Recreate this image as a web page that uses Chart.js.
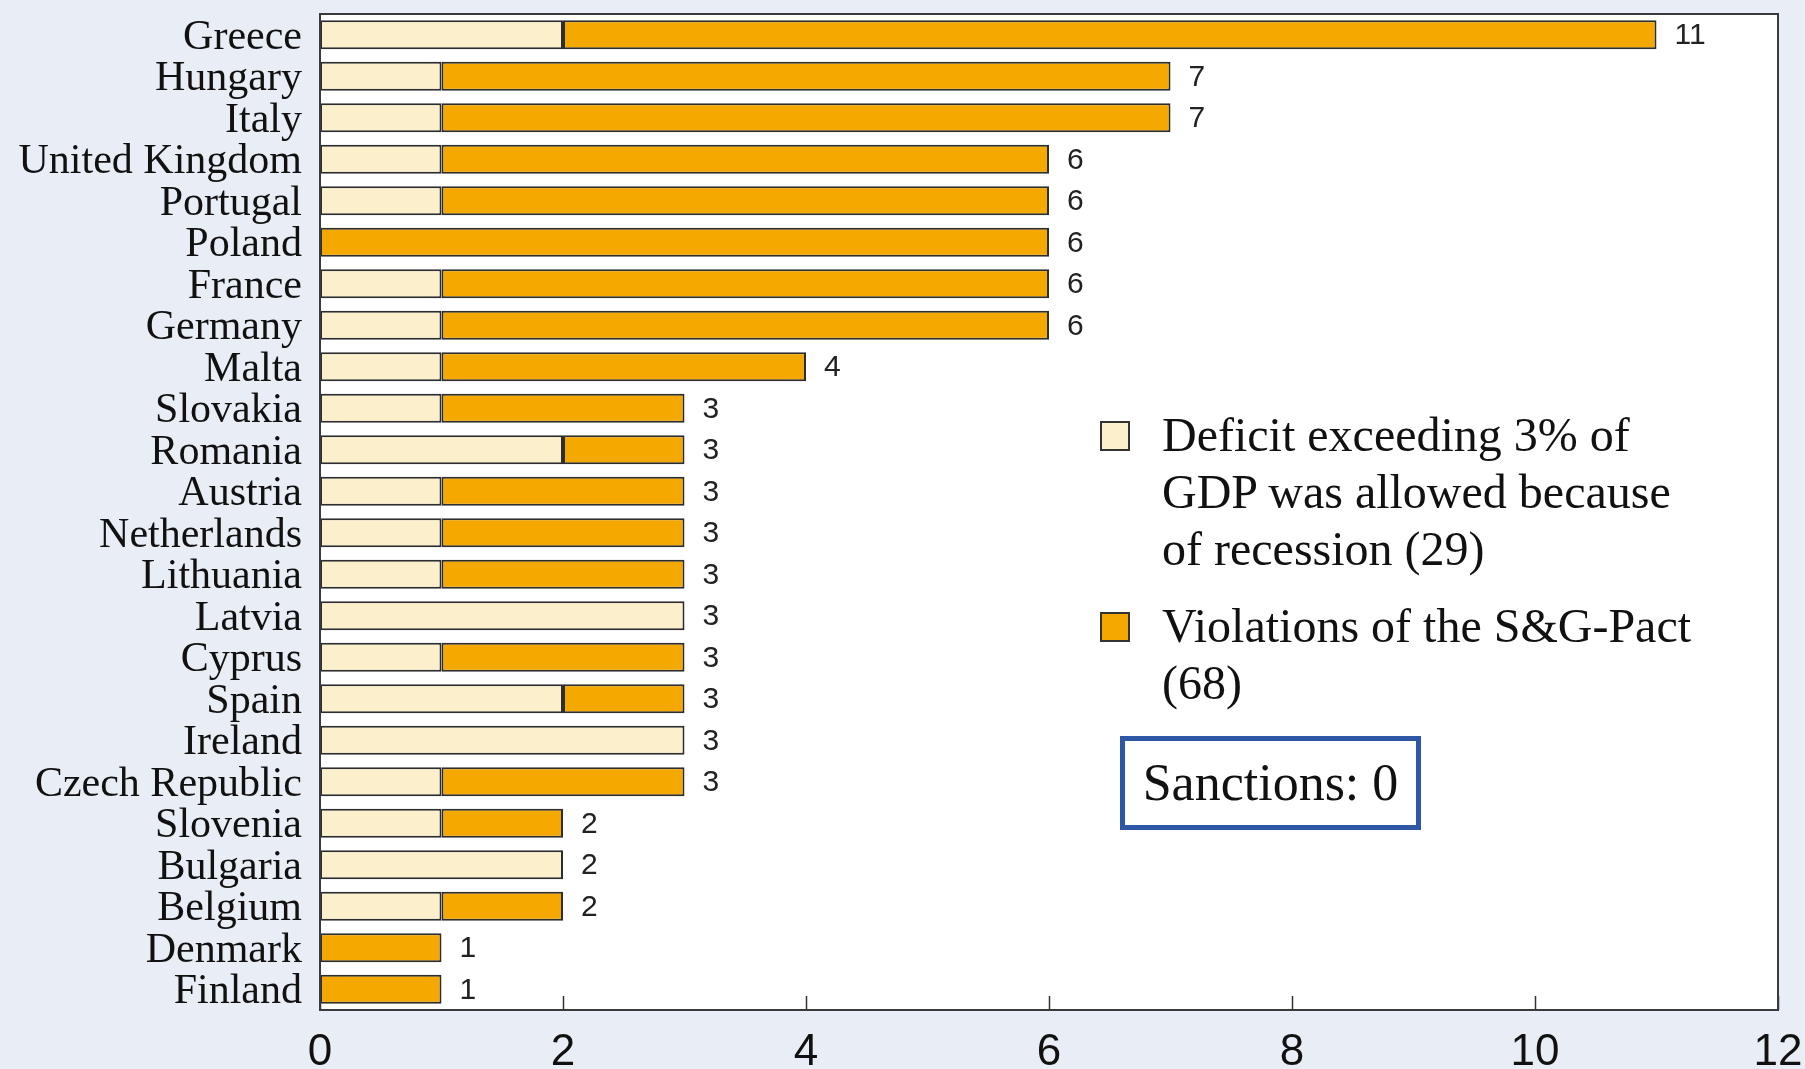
<!DOCTYPE html>
<html>
<head>
<meta charset="utf-8">
<script src="https://cdn.jsdelivr.net/npm/chart.js@4/dist/chart.umd.min.js"></script>
<style>
  html, body { margin: 0; padding: 0; background: #e9edf6; }
  #wrap { position: relative; width: 1805px; height: 1069px; overflow: hidden; }
  #chart { position: absolute; left: 0; top: 0; }
  .legend { position: absolute; font-family: "Liberation Serif", "Times New Roman", serif; font-size: 48px; color: #111; }
  .swatch { position: absolute; width: 26px; height: 26px; border: 2px solid #333; }
  .ltext { position: absolute; line-height: 57px; white-space: nowrap; }
  #sanctions { position: absolute; left: 1120px; top: 736px; width: 291px; height: 84px;
    border: 5px solid #2e58a6; background: #fff; font-family: "Liberation Serif", "Times New Roman", serif;
    font-size: 52px; color: #111; line-height: 84px; text-align: center; }
</style>
</head>
<body>
<div id="wrap">
  <canvas id="chart" width="1805" height="1069"></canvas>
  <div class="legend">
    <div class="swatch" style="left:1100px; top:421px; background:#fcefcb;"></div>
    <div class="ltext" style="left:1162px; top:406px;">Deficit exceeding 3% of<br>GDP was allowed because<br>of recession (29)</div>
    <div class="swatch" style="left:1100px; top:612px; background:#f5a800;"></div>
    <div class="ltext" style="left:1162px; top:597px;">Violations of the S&amp;G-Pact<br>(68)</div>
  </div>
  <div id="sanctions">Sanctions: 0</div>
</div>
<script>
// Countries, top to bottom
const countries = ["Greece", "Hungary", "Italy", "United Kingdom", "Portugal", "Poland", "France",
  "Germany", "Malta", "Slovakia", "Romania", "Austria", "Netherlands", "Lithuania", "Latvia",
  "Cyprus", "Spain", "Ireland", "Czech Republic", "Slovenia", "Bulgaria", "Belgium", "Denmark", "Finland"];

// Years with deficit above 3% of GDP allowed because of recession
const allowedDeficits = [2, 1, 1, 1, 1, 0, 1, 1, 1, 1, 2, 1, 1, 1, 3, 1, 2, 3, 1, 1, 2, 1, 0, 0];

// Violations of the Stability and Growth Pact
const violations = [9, 6, 6, 5, 5, 6, 5, 5, 3, 2, 1, 2, 2, 2, 0, 2, 1, 0, 2, 1, 0, 1, 1, 1];

// Horizontal axis ticks
const xTicks = [0, 2, 4, 6, 8, 10, 12];

const totals = countries.map((_, i) => allowedDeficits[i] + violations[i]);

const CREAM = "#fcefcb";
const ORANGE = "#f5a800";
const EDGE = "#2d2d2d";

const framePlugin = {
  id: "frame",
  beforeDatasetsDraw(chart) {
    const { ctx, chartArea: a } = chart;
    ctx.save();
    ctx.fillStyle = "#ffffff";
    ctx.fillRect(a.left, a.top, a.right - a.left, a.bottom - a.top);
    ctx.restore();
  },
  afterDatasetsDraw(chart) {
    const { ctx, chartArea: a } = chart;
    const xs = chart.scales.x, ys = chart.scales.y;
    ctx.save();
    // inward tick marks on the bottom axis
    ctx.strokeStyle = "#333";
    ctx.lineWidth = 1.5;
    xTicks.forEach(v => {
      const px = Math.round(xs.getPixelForValue(v)) + 0.5;
      ctx.beginPath();
      ctx.moveTo(px, a.bottom);
      ctx.lineTo(px, a.bottom - 14);
      ctx.stroke();
    });
    // frame round the plot area
    ctx.lineWidth = 2;
    ctx.strokeStyle = "#3a3a3a";
    ctx.strokeRect(a.left, a.top, a.right - a.left, a.bottom - a.top);
    // totals at the end of each bar
    ctx.fillStyle = "#222";
    ctx.font = '30px "Liberation Sans", Arial, sans-serif';
    ctx.textAlign = "left";
    ctx.textBaseline = "middle";
    totals.forEach((t, i) => {
      ctx.fillText(String(t), xs.getPixelForValue(t) + 18, ys.getPixelForValue(i) + 1);
    });
    ctx.restore();
  }
};

new Chart(document.getElementById("chart"), {
  type: "bar",
  data: {
    labels: countries,
    datasets: [
      { label: "Deficit exceeding 3% of GDP was allowed because of recession (29)",
        data: allowedDeficits, backgroundColor: CREAM, borderColor: EDGE, borderWidth: 2,
        borderSkipped: false, barPercentage: 0.7, categoryPercentage: 1.0 },
      { label: "Violations of the S&G-Pact (68)",
        data: violations, backgroundColor: ORANGE, borderColor: EDGE, borderWidth: 2,
        borderSkipped: false, barPercentage: 0.7, categoryPercentage: 1.0 }
    ]
  },
  options: {
    indexAxis: "y",
    responsive: false,
    animation: false,
    layout: { padding: { left: 0, right: 27, top: 14, bottom: 0 } },
    plugins: { legend: { display: false }, tooltip: { enabled: false } },
    scales: {
      x: {
        stacked: true, min: 0, max: 12,
        afterBuildTicks(scale) { scale.ticks = xTicks.map(v => ({ value: v })); },
        afterFit(scale) { scale.height = 59; scale.paddingLeft = 0; scale.paddingRight = 0; },
        grid: { display: false, drawTicks: false },
        border: { display: false },
        ticks: { padding: 16, color: "#111", maxRotation: 0,
          font: { family: '"Liberation Sans", Arial, sans-serif', size: 44 } }
      },
      y: {
        stacked: true,
        afterFit(scale) { scale.width = 320; scale.paddingTop = 0; scale.paddingBottom = 0; },
        grid: { display: false, drawTicks: false },
        border: { display: false },
        ticks: { padding: 18, color: "#111", autoSkip: false, labelOffset: 3,
          font: { family: '"Liberation Serif", "Times New Roman", serif', size: 42 } }
      }
    }
  },
  plugins: [framePlugin]
});
</script>
</body>
</html>
